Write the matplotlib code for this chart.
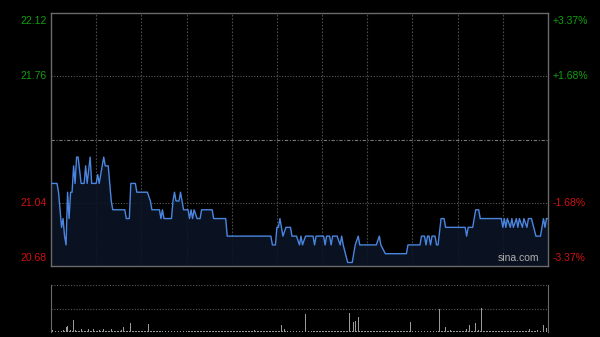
import matplotlib
matplotlib.use("Agg")
import matplotlib.pyplot as plt

# ---- data ----
prev_close = 21.40
y_ticks = [20.68, 21.04, 21.40, 21.76, 22.12]
left_labels = ["20.68", "21.04", "", "21.76", "22.12"]
right_labels = ["-3.37%", "-1.68%", "", "+1.68%", "+3.37%"]

# minute index (0 = 9:30, 330 = 16:00, lunch removed) and price at change points
minutes = [0, 4, 5, 6, 7, 8, 9, 10, 11, 12, 13, 14, 15, 16, 17, 18, 20, 22, 23, 24,
           26, 27, 30, 31, 32, 34, 35, 36, 38, 40, 41, 49, 50, 52, 53, 56, 57, 64, 66, 67,
           72, 73, 74, 75, 80, 81, 82, 83, 85, 86, 87, 88, 91, 92, 93, 94, 95, 97, 99, 100,
           107, 108, 116, 117, 146, 147, 149, 150, 151, 152, 153, 154, 156, 159, 160, 163, 165, 166, 167, 169,
           174, 175, 176, 181, 182, 183, 185, 186, 187, 190, 192, 193, 194, 197, 200, 202, 204, 205, 216, 218,
           219, 222, 236, 237, 245, 246, 248, 249, 250, 251, 252, 253, 255, 256, 257, 259, 261, 262, 275, 276,
           277, 280, 281, 282, 284, 285, 299, 300, 301, 302, 303, 305, 306, 307, 309, 310, 311, 313, 314, 316,
           317, 319, 322, 325, 327, 328, 329, 330]
prices = [21.15, 21.15, 21.10, 21.00, 20.90, 20.95, 20.85, 20.80, 21.10, 20.95, 21.10, 21.10, 21.25, 21.15, 21.30, 21.30, 21.15, 21.15, 21.25, 21.15,
          21.30, 21.15, 21.15, 21.20, 21.15, 21.25, 21.30, 21.25, 21.25, 21.05, 21.00, 21.00, 20.95, 20.95, 21.15, 21.15, 21.10, 21.10, 21.05, 21.00,
          21.00, 20.95, 21.00, 20.95, 20.95, 21.05, 21.10, 21.05, 21.05, 21.10, 21.05, 21.00, 21.00, 20.95, 21.00, 20.95, 21.00, 20.95, 20.95, 21.00,
          21.00, 20.95, 20.95, 20.85, 20.85, 20.80, 20.80, 20.90, 20.90, 20.95, 20.90, 20.85, 20.90, 20.90, 20.85, 20.85, 20.80, 20.85, 20.80, 20.85,
          20.85, 20.80, 20.85, 20.85, 20.80, 20.85, 20.85, 20.80, 20.85, 20.85, 20.80, 20.85, 20.80, 20.70, 20.70, 20.80, 20.85, 20.80, 20.80, 20.85,
          20.80, 20.75, 20.75, 20.80, 20.80, 20.85, 20.85, 20.80, 20.85, 20.85, 20.80, 20.85, 20.85, 20.80, 20.80, 20.95, 20.95, 20.90, 20.90, 20.85,
          20.90, 20.90, 20.95, 21.00, 21.00, 20.95, 20.95, 20.90, 20.95, 20.90, 20.95, 20.90, 20.95, 20.90, 20.95, 20.90, 20.95, 20.90, 20.95, 20.90,
          20.95, 20.95, 20.85, 20.85, 20.95, 20.90, 20.95, 20.95]

# per-minute volume (relative units)
volumes = [13, 2, 1, 1, 2, 1, 1, 1, 2, 1, 5, 6, 1, 2, 1, 12, 2, 1, 1, 1, 3, 1, 1, 1, 1, 3, 1, 1, 3, 1,
           1, 1, 2, 1, 1, 3, 1, 1, 1, 1, 3, 1, 1, 1, 1, 1, 1, 2, 5, 1, 1, 1, 1, 9, 1, 1, 1, 1, 1, 1,
           1, 1, 1, 1, 1, 8, 1, 1, 1, 1, 1, 1, 1, 1, 1, 1, 1, 1, 1, 1, 1, 1, 1, 7, 1, 1, 1, 1, 1, 1,
           1, 1, 1, 1, 1, 1, 1, 1, 1, 1, 1, 1, 1, 1, 1, 1, 1, 1, 1, 1, 1, 1, 1, 1, 1, 1, 1, 1, 1, 1,
           1, 1, 1, 1, 1, 1, 1, 1, 1, 1, 1, 1, 1, 1, 1, 2, 1, 1, 1, 1, 1, 1, 1, 1, 1, 1, 1, 1, 1, 1,
           1, 1, 1, 7, 1, 3, 1, 1, 1, 1, 1, 1, 1, 1, 1, 1, 1, 1, 21, 18, 1, 1, 1, 1, 1, 1, 1, 1, 1, 1,
           1, 1, 1, 1, 1, 1, 1, 1, 1, 1, 1, 1, 1, 1, 1, 1, 1, 1, 19, 1, 1, 10, 11, 1, 15, 1, 1, 1, 1, 1,
           1, 1, 1, 1, 1, 1, 1, 1, 1, 1, 1, 1, 1, 1, 1, 1, 1, 1, 1, 1, 1, 1, 1, 1, 1, 1, 1, 1, 1, 10,
           1, 1, 1, 1, 1, 1, 1, 1, 1, 1, 1, 1, 1, 1, 1, 1, 1, 1, 23, 1, 1, 1, 5, 1, 1, 2, 1, 1, 1, 1,
           1, 1, 1, 1, 1, 1, 3, 1, 7, 1, 1, 1, 9, 1, 2, 1, 24, 1, 1, 1, 1, 1, 1, 1, 1, 1, 1, 1, 1, 1,
           1, 1, 1, 1, 1, 1, 1, 1, 1, 1, 1, 1, 1, 1, 1, 1, 1, 1, 3, 1, 1, 1, 1, 2, 1, 1, 1, 7, 1, 4,
           2]
vol_max = 47
grid_minutes = [30, 60, 90, 120, 150, 180, 210, 240, 270, 300]

# ---- drawing ----
plt.rcParams['font.family'] = ['Liberation Sans', 'DejaVu Sans']
fig = plt.figure(figsize=(6.0, 3.37), dpi=100, facecolor='black')

W, H = 600.0, 337.0
ax = fig.add_axes([51 / W, 1 - 266 / H, 497 / W, 253 / H])
axv = fig.add_axes([51 / W, 1 - 332 / H, 497 / W, 47 / H])

green = '#10a010'
red = '#d01010'
frame = '#6a6a6a'
gridc = '#4a4a4a'

for a in (ax, axv):
    a.set_facecolor('black')
    a.set_xlim(0, 330)
    a.set_xticks([])
    a.set_yticks([])

ax.set_ylim(y_ticks[0], y_ticks[-1])
for s in ax.spines.values():
    s.set_color(frame)
    s.set_linewidth(1.0)

for m in grid_minutes:
    ax.axvline(m, color=gridc, lw=0.8, ls=(0, (1.5, 1.5)), zorder=1)
for yv in y_ticks[1:-1]:
    if abs(yv - prev_close) < 1e-9:
        ax.axhline(yv, color='#777777', lw=0.8, ls=(0, (3, 1.5, 1, 1.5)), zorder=1)
    else:
        ax.axhline(yv, color='#5a5a5a', lw=0.8, ls=(0, (1, 1.5)), zorder=1)

ax.fill_between(minutes, prices, y_ticks[0], color='#0c1424', alpha=0.9, lw=0, zorder=2)
ax.plot(minutes, prices, color='#4a86e0', lw=1.0, zorder=3)

for yv, lab, rlab in zip(y_ticks, left_labels, right_labels):
    if not lab:
        continue
    col = green if yv > prev_close else red
    va = 'top' if yv == y_ticks[-1] else ('bottom' if yv == y_ticks[0] else 'center')
    off = -2 if va == 'top' else (2 if va == 'bottom' else 0)
    ax.annotate(lab, xy=(0, yv), xycoords=('axes fraction', 'data'), xytext=(-3, off),
                textcoords='offset points', ha='right', va=va, color=col, fontsize=7.5)
    ax.annotate(rlab, xy=(1, yv), xycoords=('axes fraction', 'data'), xytext=(3, off),
                textcoords='offset points', ha='left', va=va, color=col, fontsize=7.5)

ax.text(0.982, 0.012, 'sina.com', transform=ax.transAxes, ha='right', va='bottom',
        color='#b0b0b0', fontsize=7.5, zorder=4)

# volume panel
axv.set_ylim(0, vol_max)
axv.spines['top'].set_visible(False)
axv.spines['bottom'].set_visible(False)
axv.spines['left'].set_color(frame)
axv.spines['right'].set_color(frame)
for yv in (vol_max * 0.999, vol_max / 2):
    axv.axhline(yv, color='#5a5a5a', lw=0.8, ls=(0, (1, 1.5)))
axv.axhline(0.2, color='#5a5a5a', lw=0.8, ls=(0, (1, 1)))
axv.bar(range(len(volumes)), volumes, width=0.6, color='#9a9a9a', lw=0, align='center')

fig.savefig('out.png', dpi=100, facecolor='black')
